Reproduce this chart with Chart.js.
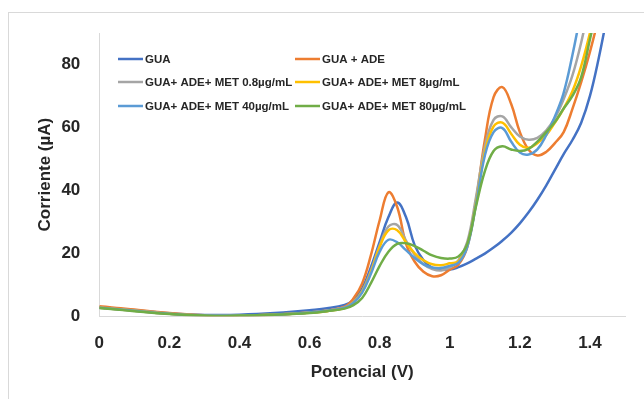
<!DOCTYPE html>
<html>
<head>
<meta charset="utf-8">
<script src="https://cdn.jsdelivr.net/npm/chart.js@4"></script>
<style>
  html, body { margin: 0; padding: 0; background: #ffffff; }
  #frame { position: absolute; left: 8px; top: 12px; width: 700px; height: 450px;
           border-left: 1px solid #d9d9d9; border-top: 1px solid #d9d9d9; }
  #wrap { position: absolute; left: 0; top: 0; width: 644px; height: 399px; overflow: hidden; }
  canvas { position: absolute; left: 0; top: 0; }
</style>
</head>
<body>
<div id="wrap">
  <div id="frame"></div>
  <canvas id="c" width="644" height="399"></canvas>
</div>
<script>
// Potential sweep (V)
const potential = [0, 0.05, 0.1, 0.15, 0.2, 0.25, 0.3, 0.35, 0.4, 0.45, 0.5, 0.55, 0.6, 0.65, 0.7,
  0.725, 0.75, 0.775, 0.8, 0.825, 0.85, 0.875, 0.9, 0.925, 0.95, 0.975, 1.0,
  1.025, 1.05, 1.075, 1.1, 1.125, 1.15, 1.175, 1.2, 1.225, 1.25, 1.275, 1.3, 1.325, 1.35, 1.375, 1.4, 1.425, 1.45];

// Current (µA) for each solution
const gua = [2.8, 2.4, 1.9, 1.4, 0.9, 0.6, 0.4, 0.4, 0.5, 0.7, 1.0, 1.4, 1.9, 2.5, 3.6,
  5.1, 8.8, 15.6, 23.6, 31.5, 36.1, 31.5, 22.5, 17.8, 15.4, 14.9, 14.8,
  15.6, 16.8, 18.3, 19.9, 21.8, 24.0, 26.5, 29.5, 33.0, 37.0, 41.5, 46.5, 51.5, 56.0, 61.5, 70.0, 82.0, 96.0];
const guaAde = [3.2, 2.6, 2.1, 1.5, 1.0, 0.6, 0.3, 0.2, 0.2, 0.3, 0.5, 0.8, 1.2, 1.8, 3.0,
  5.6, 10.4, 19.4, 30.5, 39.4, 34.7, 23.1, 17.3, 14.1, 12.7, 13.0, 14.8,
  16.4, 22.0, 36.8, 55.9, 69.6, 72.8, 67.5, 58.5, 52.9, 51.1, 52.2, 55.0, 58.5, 65.9, 74.4, 84.0, 95.0, 107.0];
const met08 = [2.8, 2.3, 1.8, 1.3, 0.8, 0.5, 0.3, 0.2, 0.2, 0.3, 0.5, 0.8, 1.2, 1.7, 2.8,
  4.5, 8.0, 14.5, 22.5, 28.5, 29.0, 24.0, 19.5, 16.5, 15.0, 14.5, 15.5,
  17.8, 23.6, 37.9, 53.8, 62.4, 63.5, 60.1, 57.1, 56.1, 56.7, 59.0, 63.0, 69.0, 76.5, 87.0, 100.0, 113.0, 126.0];
const met8 = [2.7, 2.2, 1.7, 1.2, 0.8, 0.4, 0.2, 0.1, 0.2, 0.3, 0.5, 0.8, 1.1, 1.6, 2.6,
  4.3, 7.8, 14.0, 22.0, 27.3, 27.3, 23.5, 20.0, 17.8, 16.5, 16.2, 16.8,
  17.5, 22.5, 36.0, 52.0, 60.3, 61.5, 58.0, 54.5, 53.5, 55.0, 57.5, 61.5, 66.0, 71.5, 79.5, 90.0, 102.0, 115.0];
const met40 = [2.7, 2.2, 1.7, 1.2, 0.8, 0.4, 0.2, 0.2, 0.2, 0.3, 0.5, 0.8, 1.2, 1.7, 2.7,
  4.2, 7.5, 13.5, 20.5, 24.3, 23.5, 21.0, 18.5, 16.5, 15.5, 15.3, 16.0,
  17.0, 22.0, 35.5, 51.0, 58.5, 59.8, 55.5, 52.0, 51.4, 53.0, 57.5, 63.5, 71.0, 83.0, 97.0, 111.0, 125.0, 140.0];
const met80 = [2.6, 2.1, 1.6, 1.1, 0.7, 0.4, 0.2, 0.1, 0.2, 0.3, 0.5, 0.7, 1.0, 1.6, 2.4,
  3.5, 5.8, 10.5, 16.0, 20.5, 23.0, 23.2, 22.3, 20.8, 19.3, 18.5, 18.3,
  19.0, 23.0, 35.0, 46.0, 52.5, 54.0, 53.0, 52.5, 53.2, 55.5, 58.5, 61.7, 66.0, 70.0, 76.0, 88.0, 100.0, 112.0];

const seriesNames = ['GUA', 'GUA + ADE', 'GUA+ ADE+ MET 0.8µg/mL', 'GUA+ ADE+ MET 8µg/mL',
  'GUA+ ADE+ MET 40µg/mL', 'GUA+ ADE+ MET 80µg/mL'];
const seriesValues = [gua, guaAde, met08, met8, met40, met80];
const seriesColors = ['#4472C4', '#ED7D31', '#A5A5A5', '#FFC000', '#5B9BD5', '#70AD47'];

const xTicks = [0, 0.2, 0.4, 0.6, 0.8, 1, 1.2, 1.4];
const yTicks = [0, 20, 40, 60, 80];

const FONT = "'Liberation Sans', Arial, sans-serif";
const TEXT = '#262626';

const datasets = seriesValues.map((vals, i) => ({
  label: seriesNames[i],
  data: potential.map((p, k) => ({ x: p, y: vals[k] })),
  borderColor: seriesColors[i],
  backgroundColor: seriesColors[i],
  borderWidth: 2.5,
  pointRadius: 0,
  tension: 0.4,
  fill: false,
  order: seriesValues.length - 1 - i
}));

// Two-column legend inside the plot area
const legendPlugin = {
  id: 'insetLegend',
  afterDraw(chart) {
    const ctx = chart.ctx;
    const cols = [118, 295];
    const rows = [59, 82, 106];
    ctx.save();
    ctx.font = "bold 11.5px " + FONT;
    ctx.fillStyle = TEXT;
    ctx.textBaseline = 'middle';
    ctx.lineWidth = 2.5;
    seriesNames.forEach((name, i) => {
      const x = cols[i % 2];
      const y = rows[Math.floor(i / 2)];
      ctx.strokeStyle = seriesColors[i];
      ctx.beginPath();
      ctx.moveTo(x, y);
      ctx.lineTo(x + 25, y);
      ctx.stroke();
      ctx.fillText(name, x + 27, y + 0.5);
    });
    ctx.restore();
  }
};

new Chart(document.getElementById('c'), {
  type: 'line',
  data: { datasets },
  options: {
    responsive: false,
    animation: false,
    events: [],
    layout: { padding: { left: 35, top: 33, right: 19, bottom: 12 } },
    plugins: { legend: { display: false }, tooltip: { enabled: false } },
    scales: {
      x: {
        type: 'linear',
        min: 0,
        max: 1.5,
        afterBuildTicks: (s) => { s.ticks = xTicks.map(v => ({ value: v })); },
        ticks: { padding: 17, maxRotation: 0, autoSkip: false,
                 callback: (v) => String(v),
                 color: TEXT, font: { family: FONT, size: 17, weight: 'bold' } },
        grid: { display: false, drawTicks: false },
        border: { display: true, color: '#d9d9d9', width: 1 },
        title: { display: true, text: 'Potencial (V)', color: TEXT,
                 padding: { top: -8, bottom: 4 },
                 font: { family: FONT, size: 17, weight: 'bold' } }
      },
      y: {
        type: 'linear',
        min: 0,
        max: 90,
        afterBuildTicks: (s) => { s.ticks = yTicks.map(v => ({ value: v })); },
        ticks: { padding: 19, callback: (v) => String(v),
                 color: TEXT, font: { family: FONT, size: 17, weight: 'bold' } },
        grid: { display: false, drawTicks: false },
        border: { display: true, color: '#d9d9d9', width: 1 },
        title: { display: true, text: 'Corriente (µA)', color: TEXT,
                 padding: { top: 0, bottom: -13 },
                 font: { family: FONT, size: 17, weight: 'bold' } }
      }
    }
  },
  plugins: [legendPlugin]
});
</script>
</body>
</html>
